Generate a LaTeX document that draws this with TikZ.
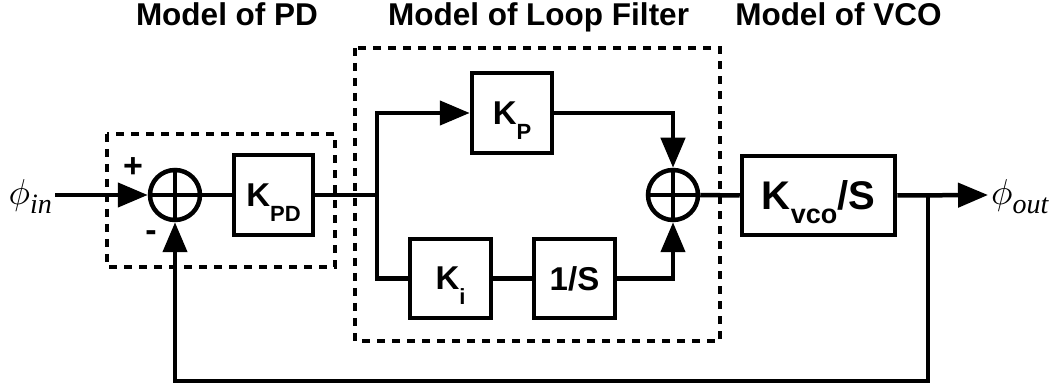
\documentclass[tikz,border=0pt]{standalone}
\usepackage{fontspec}
\setmainfont{Liberation Sans}
\newfontfamily\sigfont{Liberation Serif}
\usetikzlibrary{arrows.meta}
\newcommand{\blkSub}[1]{\raisebox{-15pt}{\fontsize{22}{22}\selectfont #1}}
\newcommand{\vcoSub}[1]{\raisebox{-14pt}{\fontsize{27}{27}\selectfont #1}}
\newcommand{\phaseSig}[1]{\scalebox{3.6}{$\phi$}\raisebox{-9pt}{\sigfont\itshape\fontsize{28}{28}\selectfont #1}}
\tikzset{
	wire/.style = {line width=4.5pt},
	arr/.style = {wire, -{Triangle[length=30pt,width=24pt]}},
	blk/.style = {draw, line width=4.5pt, inner sep=0pt, text depth=0pt, font=\bfseries\fontsize{33}{33}\selectfont},
	sumnode/.style = {draw, circle, line width=4.5pt, minimum size=50pt, inner sep=0pt},
	modbox/.style = {line width=4.5pt, dash pattern=on 8pt off 7pt},
	modtitle/.style = {anchor=base, font=\bfseries\fontsize{31.5}{31.5}\selectfont},
	signs/.style = {font=\bfseries\fontsize{34}{34}\selectfont}
}

\begin{document}
\begin{tikzpicture}[x=1pt, y=-1pt]

		\useasboundingbox (0,0) rectangle (1052,387);

		% titles
		\node[modtitle] (tpd) at (227,26) {Model of PD};
		\node[modtitle] (tlf) at (538.5,26) {Model of Loop Filter};
		\node[modtitle] (tvco) at (838.5,26) {Model of VCO};

		% model boxes
		\draw[modbox] (107,134) rectangle (335,267);
		\draw[modbox] (355,48) rectangle (720,341);

		% phase detector
		\node[sumnode] (sum1) at (175,195) {};
		\draw[wire] (sum1.north) -- (sum1.south);
		\draw[wire] (sum1.west) -- (sum1.east);
		\node[blk, minimum width=79pt, minimum height=80pt] (kpd) at (273.5,195) {K\blkSub{PD}};
		\node[signs] (plus) at (133,168) {+};
		\node[signs] (minus) at (151,236) {-};

		% loop filter
		\coordinate (branch) at (377,195);
		\node[blk, minimum width=80pt, minimum height=80pt] (kp) at (512,113) {K\blkSub{P}};
		\node[blk, minimum width=81pt, minimum height=79pt] (ki) at (450.5,278.5) {K\blkSub{i}};
		\node[blk, minimum width=81pt, minimum height=79pt] (inv) at (574.5,278.5) {1/S};
		\node[sumnode] (sum2) at (673,195) {};
		\draw[wire] (sum2.north) -- (sum2.south);
		\draw[wire] (sum2.west) -- (sum2.east);

		% vco
		\node[blk, minimum width=153pt, minimum height=79pt, font=\bfseries\fontsize{40}{40}\selectfont] (vco) at (818.5,195.5) {K\vcoSub{vco}/S};
		\coordinate (tap) at (928,195);

		% input and output
		\node[anchor=east, inner sep=0pt] (phin) at (52,197) {\phaseSig{in}};
		\coordinate (inpt) at (55,195);
		\coordinate (outpt) at (988,195);
		\node[anchor=west, inner sep=0pt] (phout) at (991,197) {\phaseSig{out}};

		% connections
		\draw[arr] (inpt) -- (sum1.west);
		\draw[wire] (sum1.east) -- (kpd.west);
		\draw[wire] (kpd.east) -- (branch);
		\draw[arr] (branch) |- (kp.west);
		\draw[wire] (branch) |- (ki.west);
		\draw[wire] (ki.east) -- (inv.west);
		\draw[arr] (kp.east) -| (sum2.north);
		\draw[arr] (inv.east) -| (sum2.south);
		\draw[wire] (sum2.east) -- (vco.west);
		\draw[arr] (vco.east) -- (outpt);

		% feedback
		\coordinate (fbr) at (928,381);
		\coordinate (fbl) at (175,381);
		\draw[arr] (tap) -- (fbr) -- (fbl) -- (sum1.south);

\end{tikzpicture}
\end{document}
